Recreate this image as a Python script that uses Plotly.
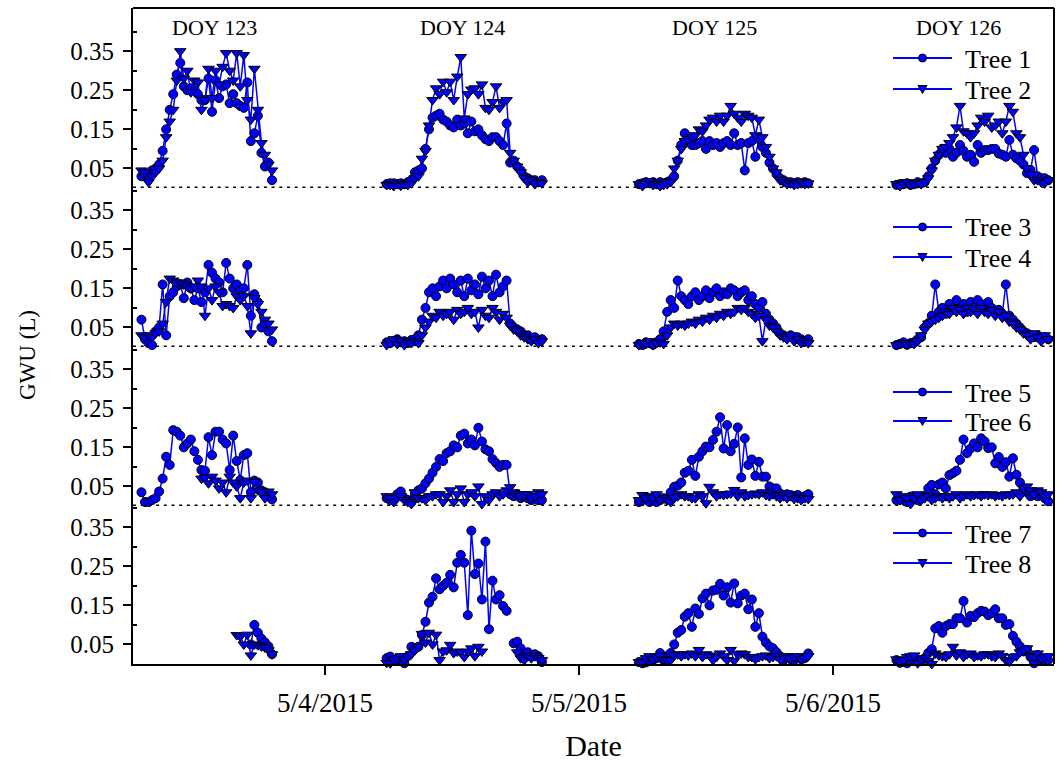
import pandas as pd
import plotly.graph_objects as go

# Sampling grid of each measurement day (one reading every 20 minutes)
DAY_STARTS = ["2015-05-03 06:40", "2015-05-04 05:50", "2015-05-05 05:40", "2015-05-06 06:00"]
STEP = "20min"
DOY_LABELS = ["DOY 123", "DOY 124", "DOY 125", "DOY 126"]
DOY_CENTERS = ["2015-05-03 13:35", "2015-05-04 13:00", "2015-05-05 12:50", "2015-05-06 11:50"]
X_TICKS = ["2015-05-04", "2015-05-05", "2015-05-06"]
X_TICK_TEXT = ["5/4/2015", "5/5/2015", "5/6/2015"]
Y_TICKS = [0.05, 0.15, 0.25, 0.35]
Y_TICK_TEXT = ["0.05", "0.15", "0.25", "0.35"]
TREE_NAMES = ["Tree 1", "Tree 2", "Tree 3", "Tree 4", "Tree 5", "Tree 6", "Tree 7", "Tree 8"]

# ---- GWU (L) per tree and day ----
t1_d123 = [0.03, 0.035, 0.03, 0.045, 0.05, 0.06, 0.095, 0.15, 0.20, 0.24,
           0.29, 0.32, 0.26, 0.25, 0.255, 0.25, 0.24, 0.225, 0.225, 0.28,
           0.195, 0.275, 0.23, 0.26, 0.265, 0.217, 0.24, 0.217, 0.21, 0.205,
           0.27, 0.12, 0.14, 0.185, 0.09, 0.055, 0.065, 0.02]
t1_d124 = [0.01, 0.012, 0.012, 0.01, 0.012, 0.01, 0.015, 0.02, 0.04, 0.045,
           0.05, 0.10, 0.15, 0.18, 0.185, 0.19, 0.175, 0.17, 0.16, 0.155,
           0.175, 0.16, 0.165, 0.14, 0.17, 0.145, 0.15, 0.135, 0.125, 0.12,
           0.13, 0.13, 0.12, 0.11, 0.165, 0.065, 0.07, 0.055, 0.045, 0.03,
           0.025, 0.02, 0.02, 0.015, 0.02]
t1_d125 = [0.01, 0.012, 0.015, 0.012, 0.015, 0.01, 0.015, 0.012, 0.015, 0.02,
           0.03, 0.07, 0.11, 0.14, 0.12, 0.11, 0.11, 0.115, 0.12, 0.10,
           0.12, 0.11, 0.115, 0.105, 0.115, 0.12, 0.11, 0.14, 0.11, 0.115,
           0.045, 0.115, 0.12, 0.08, 0.125, 0.105, 0.09, 0.065, 0.05, 0.035,
           0.025, 0.02, 0.015, 0.015, 0.012, 0.015, 0.012, 0.015, 0.012]
t1_d126 = [0.008, 0.01, 0.01, 0.012, 0.008, 0.01, 0.015, 0.012, 0.015, 0.03,
           0.05, 0.07, 0.085, 0.10, 0.09, 0.10, 0.08, 0.09, 0.11, 0.095,
           0.08, 0.085, 0.067, 0.11, 0.09, 0.097, 0.097, 0.10, 0.10, 0.088,
           0.085, 0.08, 0.123, 0.085, 0.076, 0.07, 0.06, 0.038, 0.046, 0.097,
           0.03, 0.025, 0.025, 0.02]

t2_d123 = [0.045, 0.04, 0.015, 0.03, 0.04, 0.05, 0.07, 0.13, 0.17, 0.20,
           0.275, 0.35, 0.28, 0.30, 0.245, 0.275, 0.27, 0.20, 0.225, 0.305,
           0.23, 0.30, 0.265, 0.31, 0.345, 0.30, 0.275, 0.345, 0.26, 0.34,
           0.225, 0.175, 0.305, 0.20, 0.115, 0.085, 0.06, 0.045]
t2_d124 = [0.008, 0.008, 0.005, 0.01, 0.006, 0.01, 0.008, 0.012, 0.025, 0.03,
           0.075, 0.095, 0.16, 0.225, 0.255, 0.24, 0.272, 0.245, 0.272, 0.225,
           0.285, 0.335, 0.178, 0.24, 0.252, 0.255, 0.24, 0.265, 0.205, 0.20,
           0.22, 0.26, 0.205, 0.22, 0.225, 0.09, 0.07, 0.055, 0.04, 0.025,
           0.015, 0.02, 0.01, 0.015, 0.012]
t2_d125 = [0.01, 0.005, 0.012, 0.018, 0.008, 0.01, 0.005, 0.008, 0.01, 0.015,
           0.05, 0.07, 0.10, 0.12, 0.125, 0.13, 0.135, 0.15, 0.145, 0.16,
           0.175, 0.18, 0.17, 0.185, 0.17, 0.185, 0.21, 0.19, 0.18, 0.17,
           0.19, 0.185, 0.18, 0.135, 0.175, 0.13, 0.105, 0.08, 0.05, 0.04,
           0.02, 0.015, 0.01, 0.012, 0.008, 0.01, 0.015, 0.01, 0.012]
t2_d126 = [0.01, 0.005, 0.01, 0.015, 0.008, 0.01, 0.012, 0.01, 0.015, 0.025,
           0.045, 0.07, 0.085, 0.10, 0.105, 0.115, 0.13, 0.155, 0.21, 0.145,
           0.14, 0.13, 0.14, 0.16, 0.18, 0.17, 0.185, 0.155, 0.16, 0.17,
           0.14, 0.17, 0.21, 0.195, 0.14, 0.13, 0.085, 0.05, 0.035, 0.02,
           0.02, 0.015, 0.012, 0.02]

t3_d123 = [0.07, 0.02, 0.01, 0.005, 0.04, 0.05, 0.16, 0.03, 0.13, 0.14,
           0.155, 0.16, 0.125, 0.165, 0.15, 0.12, 0.15, 0.115, 0.14, 0.21,
           0.19, 0.175, 0.165, 0.14, 0.215, 0.175, 0.15, 0.16, 0.145, 0.15,
           0.21, 0.08, 0.135, 0.115, 0.05, 0.06, 0.04, 0.015]
t3_d124 = [0.012, 0.01, 0.015, 0.02, 0.012, 0.015, 0.01, 0.018, 0.02, 0.03,
           0.07, 0.10, 0.14, 0.15, 0.13, 0.155, 0.17, 0.15, 0.175, 0.16,
           0.14, 0.17, 0.13, 0.175, 0.145, 0.16, 0.135, 0.18, 0.15, 0.17,
           0.13, 0.185, 0.14, 0.155, 0.17, 0.06, 0.05, 0.045, 0.04, 0.03,
           0.03, 0.02, 0.025, 0.015, 0.02]
t3_d125 = [0.008, 0.005, 0.012, 0.01, 0.006, 0.012, 0.02, 0.04, 0.09, 0.12,
           0.10, 0.17, 0.13, 0.12, 0.11, 0.13, 0.14, 0.12, 0.13, 0.145,
           0.125, 0.14, 0.15, 0.13, 0.14, 0.135, 0.15, 0.145, 0.13, 0.14,
           0.145, 0.12, 0.13, 0.11, 0.10, 0.115, 0.085, 0.07, 0.06, 0.05,
           0.035, 0.03, 0.025, 0.03, 0.02, 0.025, 0.02, 0.015, 0.02]
t3_d126 = [0.005, 0.008, 0.012, 0.006, 0.01, 0.012, 0.02, 0.025, 0.05, 0.06,
           0.08, 0.16, 0.09, 0.10, 0.085, 0.11, 0.095, 0.12, 0.10, 0.11,
           0.09, 0.115, 0.10, 0.12, 0.11, 0.095, 0.115, 0.10, 0.09, 0.095,
           0.085, 0.16, 0.08, 0.07, 0.06, 0.05, 0.04, 0.035, 0.03, 0.025,
           0.03, 0.02, 0.025, 0.02]

t4_d123 = [0.03, 0.025, 0.03, 0.025, 0.035, 0.04, 0.06, 0.115, 0.175, 0.17,
           0.165, 0.165, 0.16, 0.155, 0.15, 0.155, 0.17, 0.155, 0.08, 0.15,
           0.12, 0.155, 0.14, 0.105, 0.11, 0.105, 0.10, 0.13, 0.12, 0.13,
           0.105, 0.035, 0.125, 0.11, 0.09, 0.07, 0.06, 0.045]
t4_d124 = [0.005, 0.01, 0.02, 0.008, 0.015, 0.005, 0.012, 0.01, 0.015, 0.01,
           0.03, 0.05, 0.065, 0.08, 0.075, 0.09, 0.08, 0.085, 0.09, 0.07,
           0.095, 0.085, 0.09, 0.10, 0.085, 0.09, 0.05, 0.095, 0.08, 0.075,
           0.10, 0.09, 0.07, 0.085, 0.075, 0.055, 0.045, 0.04, 0.03, 0.025,
           0.02, 0.015, 0.02, 0.01, 0.015]
t4_d125 = [0.005, 0.01, 0.008, 0.015, 0.005, 0.01, 0.012, 0.008, 0.03, 0.05,
           0.06, 0.055, 0.06, 0.055, 0.06, 0.065, 0.06, 0.07, 0.065, 0.075,
           0.07, 0.08, 0.075, 0.085, 0.08, 0.09, 0.085, 0.09, 0.10, 0.095,
           0.10, 0.09, 0.085, 0.075, 0.08, 0.015, 0.07, 0.055, 0.05, 0.04,
           0.03, 0.025, 0.02, 0.03, 0.015, 0.02, 0.01, 0.015, 0.01]
t4_d126 = [0.005, 0.008, 0.01, 0.006, 0.01, 0.008, 0.015, 0.03, 0.045, 0.06,
           0.065, 0.07, 0.075, 0.08, 0.09, 0.085, 0.10, 0.09, 0.095, 0.085,
           0.10, 0.09, 0.095, 0.085, 0.10, 0.09, 0.085, 0.095, 0.08, 0.09,
           0.075, 0.08, 0.065, 0.06, 0.05, 0.045, 0.035, 0.03, 0.02, 0.035,
           0.025, 0.015, 0.03, 0.02]

t5_d123 = [0.035, 0.01, 0.01, 0.015, 0.02, 0.037, 0.07, 0.126, 0.105, 0.194,
           0.19, 0.18, 0.15, 0.16, 0.17, 0.14, 0.118, 0.092, 0.09, 0.176,
           0.13, 0.19, 0.19, 0.17, 0.16, 0.092, 0.18, 0.115, 0.066, 0.13,
           0.135, 0.035, 0.065, 0.06, 0.04, 0.035, 0.025, 0.017]
t5_d124 = [0.02, 0.015, 0.02, 0.03, 0.037, 0.02, 0.015, 0.01, 0.03, 0.04,
           0.045, 0.058, 0.07, 0.085, 0.10, 0.12, 0.115, 0.135, 0.14, 0.155,
           0.15, 0.18, 0.185, 0.16, 0.17, 0.155, 0.20, 0.165, 0.145, 0.14,
           0.12, 0.11, 0.10, 0.105, 0.105, 0.03, 0.025, 0.03, 0.02, 0.025,
           0.02, 0.015, 0.02, 0.015, 0.015]
t5_d125 = [0.01, 0.015, 0.02, 0.01, 0.015, 0.01, 0.015, 0.02, 0.017, 0.035,
           0.049, 0.052, 0.06, 0.085, 0.09, 0.118, 0.077, 0.126, 0.14, 0.152,
           0.15, 0.169, 0.19, 0.227, 0.147, 0.207, 0.14, 0.159, 0.201, 0.073,
           0.173, 0.105, 0.119, 0.077, 0.113, 0.075, 0.075, 0.05, 0.045, 0.045,
           0.032, 0.028, 0.03, 0.028, 0.025, 0.028, 0.02, 0.025, 0.03]
t5_d126 = [0.015, 0.02, 0.015, 0.01, 0.024, 0.02, 0.015, 0.02, 0.025, 0.045,
           0.054, 0.03, 0.055, 0.06, 0.045, 0.079, 0.084, 0.09, 0.118, 0.17,
           0.135, 0.147, 0.16, 0.15, 0.173, 0.165, 0.148, 0.15, 0.109, 0.125,
           0.10, 0.112, 0.075, 0.122, 0.08, 0.06, 0.045, 0.035, 0.025, 0.03,
           0.025, 0.03, 0.02, 0.012]

t6_d123 = [None, None, None, None, None, None, None, None, None, None,
           None, None, None, None, None, None, None, 0.07, 0.072, 0.058,
           0.075, 0.065, 0.045, 0.06, 0.035, 0.075, 0.06, 0.05, 0.02, 0.06,
           0.065, 0.02, 0.062, 0.04, 0.035, 0.02, 0.037, 0.03]
t6_d124 = [0.025, 0.02, 0.01, 0.02, 0.025, 0.015, 0.01, 0.005, 0.035, 0.02,
           0.02, 0.015, 0.025, 0.025, 0.03, 0.03, 0.01, 0.025, 0.04, 0.01,
           0.03, 0.045, 0.01, 0.03, 0.035, 0.025, 0.05, 0.005, 0.025, 0.015,
           0.03, 0.035, 0.025, 0.03, 0.04, 0.048, 0.035, 0.03, 0.025, 0.03,
           0.03, 0.02, 0.025, 0.035, 0.03]
t6_d125 = [0.015, 0.028, 0.02, 0.025, 0.022, 0.03, 0.015, 0.02, 0.015, 0.01,
           0.02, 0.025, 0.03, 0.025, 0.025, 0.02, 0.02, 0.03, 0.025, 0.007,
           0.049, 0.035, 0.025, 0.03, 0.028, 0.03, 0.032, 0.041, 0.025, 0.035,
           0.025, 0.028, 0.03, 0.032, 0.03, 0.035, 0.028, 0.025, 0.03, 0.025,
           0.02, 0.025, 0.02, 0.025, 0.018, 0.02, 0.015, 0.02, 0.018]
t6_d126 = [0.03, 0.015, 0.025, 0.02, 0.005, 0.02, 0.03, 0.015, 0.02, 0.025,
           0.015, 0.02, 0.025, 0.02, 0.025, 0.02, 0.025, 0.03, 0.02, 0.025,
           0.03, 0.025, 0.028, 0.03, 0.025, 0.03, 0.028, 0.03, 0.025, 0.028,
           0.025, 0.03, 0.028, 0.03, 0.035, 0.025, 0.045, 0.05, 0.04, 0.03,
           0.04, 0.035, 0.025, 0.03]

t7_d123 = [None, None, None, None, None, None, None, None, None, None,
           None, None, None, None, None, None, None, None, None, None,
           None, None, None, None, None, None, None, None, None, None,
           None, 0.05, 0.10, 0.08, 0.065, 0.055, 0.045, 0.025]
t7_d124 = [0.015, 0.019, 0.01, 0.008, 0.01, 0.002, 0.02, 0.044, 0.04, 0.044,
           0.074, 0.108, 0.157, 0.172, 0.219, 0.191, 0.20, 0.208, 0.228, 0.196,
           0.259, 0.279, 0.259, 0.125, 0.341, 0.23, 0.257, 0.165, 0.313, 0.089,
           0.213, 0.165, 0.176, 0.148, 0.136, None, 0.053, 0.057, 0.04, 0.025,
           0.03, 0.02, 0.025, 0.02, 0.005]
t7_d125 = [0.005, 0.002, 0.004, 0.01, 0.01, 0.015, 0.028, 0.01, 0.02, 0.028,
           0.05, 0.08, 0.087, 0.121, 0.13, 0.095, 0.142, 0.128, 0.168, 0.18,
           0.15, 0.188, 0.19, 0.205, 0.175, 0.196, 0.157, 0.206, 0.155, 0.175,
           0.18, 0.14, 0.165, 0.095, 0.13, 0.07, 0.055, 0.045, 0.04, 0.03,
           0.02, 0.01, 0.015, 0.012, 0.01, 0.015, 0.012, 0.015, 0.027]
t7_d126 = [0.01, 0.003, 0.005, 0.002, 0.008, 0.01, 0.01, 0.007, 0.015, 0.028,
           0.038, 0.091, 0.097, 0.08, 0.097, 0.102, 0.102, 0.117, 0.117, 0.161,
           0.106, 0.123, 0.12, 0.13, 0.136, 0.134, 0.125, 0.13, 0.14, 0.117,
           0.117, 0.10, 0.102, 0.072, 0.057, 0.045, 0.032, 0.036, 0.018, 0.002,
           0.023, 0.012, 0.01, 0.01]

t8_d123 = [None, None, None, None, None, None, None, None, None, None,
           None, None, None, None, None, None, None, None, None, None,
           None, None, None, None, None, None, None, 0.074, 0.07, 0.05,
           0.075, 0.022, 0.05, 0.048, 0.045, 0.042, 0.035, 0.025]
t8_d124 = [0.003, 0.002, 0.012, 0.015, 0.02, 0.012, 0.02, 0.025, 0.035, 0.044,
           0.077, 0.055, 0.08, 0.05, 0.075, 0.01, 0.032, 0.035, 0.049, 0.028,
           0.032, 0.03, 0.018, 0.032, 0.04, 0.02, 0.044, 0.032, None, None,
           None, None, None, None, None, None, None, 0.03, 0.015, 0.01,
           0.02, 0.015, 0.02, 0.015, 0.01]
t8_d125 = [0.005, 0.004, 0.015, 0.02, 0.012, 0.018, 0.02, 0.012, 0.01, 0.01,
           0.022, 0.025, 0.02, 0.025, 0.022, 0.027, 0.02, 0.036, 0.018, 0.025,
           0.022, 0.01, 0.018, 0.027, 0.02, 0.01, 0.036, 0.008, 0.025, 0.027,
           0.025, 0.018, 0.018, 0.012, 0.018, 0.02, 0.022, 0.015, 0.018, 0.02,
           0.012, 0.018, 0.02, 0.015, 0.018, 0.02, 0.012, 0.015, 0.02]
t8_d126 = [0.012, 0.006, 0.01, 0.018, 0.02, 0.022, 0.002, 0.012, 0.015, 0.008,
           0.0, 0.027, 0.022, 0.02, 0.018, 0.025, 0.044, 0.022, 0.03, 0.018,
           0.025, 0.027, 0.018, 0.022, 0.02, 0.025, 0.025, 0.02, 0.018, 0.027,
           0.02, 0.01, 0.006, 0.018, 0.02, 0.03, 0.035, 0.04, 0.02, 0.018,
           0.027, 0.014, 0.018, 0.02]

TREE_DAYS = [
    [t1_d123, t1_d124, t1_d125, t1_d126],
    [t2_d123, t2_d124, t2_d125, t2_d126],
    [t3_d123, t3_d124, t3_d125, t3_d126],
    [t4_d123, t4_d124, t4_d125, t4_d126],
    [t5_d123, t5_d124, t5_d125, t5_d126],
    [t6_d123, t6_d124, t6_d125, t6_d126],
    [t7_d123, t7_d124, t7_d125, t7_d126],
    [t8_d123, t8_d124, t8_d125, t8_d126],
]

FONT = "Liberation Serif"
BLUE = "#0000FF"

# figure geometry (pixels) used for the panel-key placement
W, H = 1061, 776
ML, MR, MT, MB = 133, 7, 8, 112
PW, PH = W - ML - MR, H - MT - MB

# panel layout: (y domain, y range), top panel first
PANELS = [
    ([0.7256, 1.0], [0, 0.4604]),
    ([0.4832, 0.7256], [0, 0.4066]),
    ([0.2409, 0.4832], [0, 0.4066]),
    ([0.0, 0.2409], [0, 0.4041]),
]
# key rows (pixel y from the top of the figure) for each panel
KEY_ROWS = [(58, 89), (227, 257), (392, 421), (533, 563)]
KEY_LINE_X = (893, 952)
KEY_TEXT_X = 963


def px_x(px):
    return (px - ML) / PW


def px_y(py):
    return (H - MB - py) / PH


def build_series(days):
    xs, ys = [], []
    for start, vals in zip(DAY_STARTS, days):
        times = pd.date_range(start, periods=len(vals), freq=STEP)
        xs.extend(times.strftime("%Y-%m-%d %H:%M:%S").tolist())
        ys.extend(vals)
        xs.append(None)
        ys.append(None)
    return xs, ys


fig = go.Figure()

for k, days in enumerate(TREE_DAYS):
    panel = k // 2
    yref = "y" if panel == 0 else f"y{panel + 1}"
    xs, ys = build_series(days)
    symbol = "circle" if k % 2 == 0 else "triangle-down"
    fig.add_trace(go.Scatter(
        x=xs, y=ys, mode="lines+markers", name=TREE_NAMES[k],
        yaxis=yref, cliponaxis=False, showlegend=False,
        line=dict(color=BLUE, width=1.5),
        marker=dict(symbol=symbol, size=9 if k % 2 == 0 else 10, color=BLUE,
                    line=dict(color="black", width=1)),
        connectgaps=False,
    ))

layout = dict(
    width=W, height=H,
    margin=dict(l=ML, r=MR, t=MT, b=MB),
    paper_bgcolor="white", plot_bgcolor="white",
    font=dict(family=FONT, color="black"),
    showlegend=False,
    xaxis=dict(
        type="date", anchor="y4",
        range=["2015-05-03 05:52", "2015-05-06 20:53"],
        tickmode="array", tickvals=X_TICKS, ticktext=X_TICK_TEXT,
        ticks="outside", ticklen=9, tickwidth=1.5, tickcolor="black",
        tickfont=dict(size=27, family=FONT), ticklabelstandoff=5,
        showline=True, linecolor="black", linewidth=2,
        showgrid=False, zeroline=False,
        title=dict(text="Date", font=dict(size=30, family=FONT), standoff=18),
    ),
)

for p, (dom, rng) in enumerate(PANELS):
    key = "yaxis" if p == 0 else f"yaxis{p + 1}"
    layout[key] = dict(
        domain=dom, range=rng, anchor="x",
        tickmode="array", tickvals=Y_TICKS, ticktext=Y_TICK_TEXT,
        ticks="outside", ticklen=8, tickwidth=1.5, tickcolor="black",
        tickfont=dict(size=25, family=FONT),
        ticklabelstandoff=4,
        minor=dict(tickmode="array", tickvals=[0.1, 0.2, 0.3, 0.4], ticks="inside",
                   ticklen=4, tickwidth=1.5, tickcolor="black"),
        showline=True, linecolor="black", linewidth=2,
        showgrid=False, zeroline=False,
    )

fig.update_layout(**layout)

# frame on top and right
fig.add_shape(type="line", xref="paper", yref="paper", x0=0, x1=1, y0=1, y1=1,
              line=dict(color="black", width=2))
fig.add_shape(type="line", xref="paper", yref="paper", x0=1, x1=1, y0=0, y1=1,
              line=dict(color="black", width=2))
# dotted zero lines separating the panels
for yref in ["y", "y2", "y3"]:
    fig.add_shape(type="line", xref="paper", yref=yref, x0=0, x1=1, y0=0, y1=0,
                  line=dict(color="black", width=3, dash="3px,4.7px"), layer="below")

# per-panel keys: line sample with its marker, and the tree name
for k, name in enumerate(TREE_NAMES):
    row = KEY_ROWS[k // 2][k % 2]
    cx = sum(KEY_LINE_X) / 2
    fig.add_shape(type="line", xref="paper", yref="paper",
                  x0=px_x(KEY_LINE_X[0]), x1=px_x(KEY_LINE_X[1]),
                  y0=px_y(row), y1=px_y(row), line=dict(color=BLUE, width=2))
    if k % 2 == 0:
        fig.add_shape(type="circle", xref="paper", yref="paper",
                      x0=px_x(cx - 4), x1=px_x(cx + 4), y0=px_y(row + 4), y1=px_y(row - 4),
                      fillcolor=BLUE, line=dict(color="black", width=1))
    else:
        path = "M {:.5f},{:.5f} L {:.5f},{:.5f} L {:.5f},{:.5f} Z".format(
            px_x(cx - 4.5), px_y(row - 3.5), px_x(cx + 4.5), px_y(row - 3.5),
            px_x(cx), px_y(row + 4.5))
        fig.add_shape(type="path", xref="paper", yref="paper", path=path,
                      fillcolor=BLUE, line=dict(color="black", width=1))
    fig.add_annotation(x=px_x(KEY_TEXT_X), xref="paper", y=px_y(row + 1), yref="paper",
                       text=name, showarrow=False, xanchor="left", yanchor="middle",
                       font=dict(size=26, family=FONT, color="black"))

# day labels across the top panel
for label, center in zip(DOY_LABELS, DOY_CENTERS):
    fig.add_annotation(x=center, xref="x", y=0.971, yref="paper", text=label,
                       showarrow=False, font=dict(size=22, family=FONT, color="black"),
                       xanchor="center", yanchor="middle")

# shared y-axis title
fig.add_annotation(x=-0.1151, xref="paper", y=0.471, yref="paper", text="GWU (L)",
                   textangle=-90, showarrow=False,
                   font=dict(size=23, family=FONT, color="black"),
                   xanchor="center", yanchor="middle")

fig.write_html("out.html")
